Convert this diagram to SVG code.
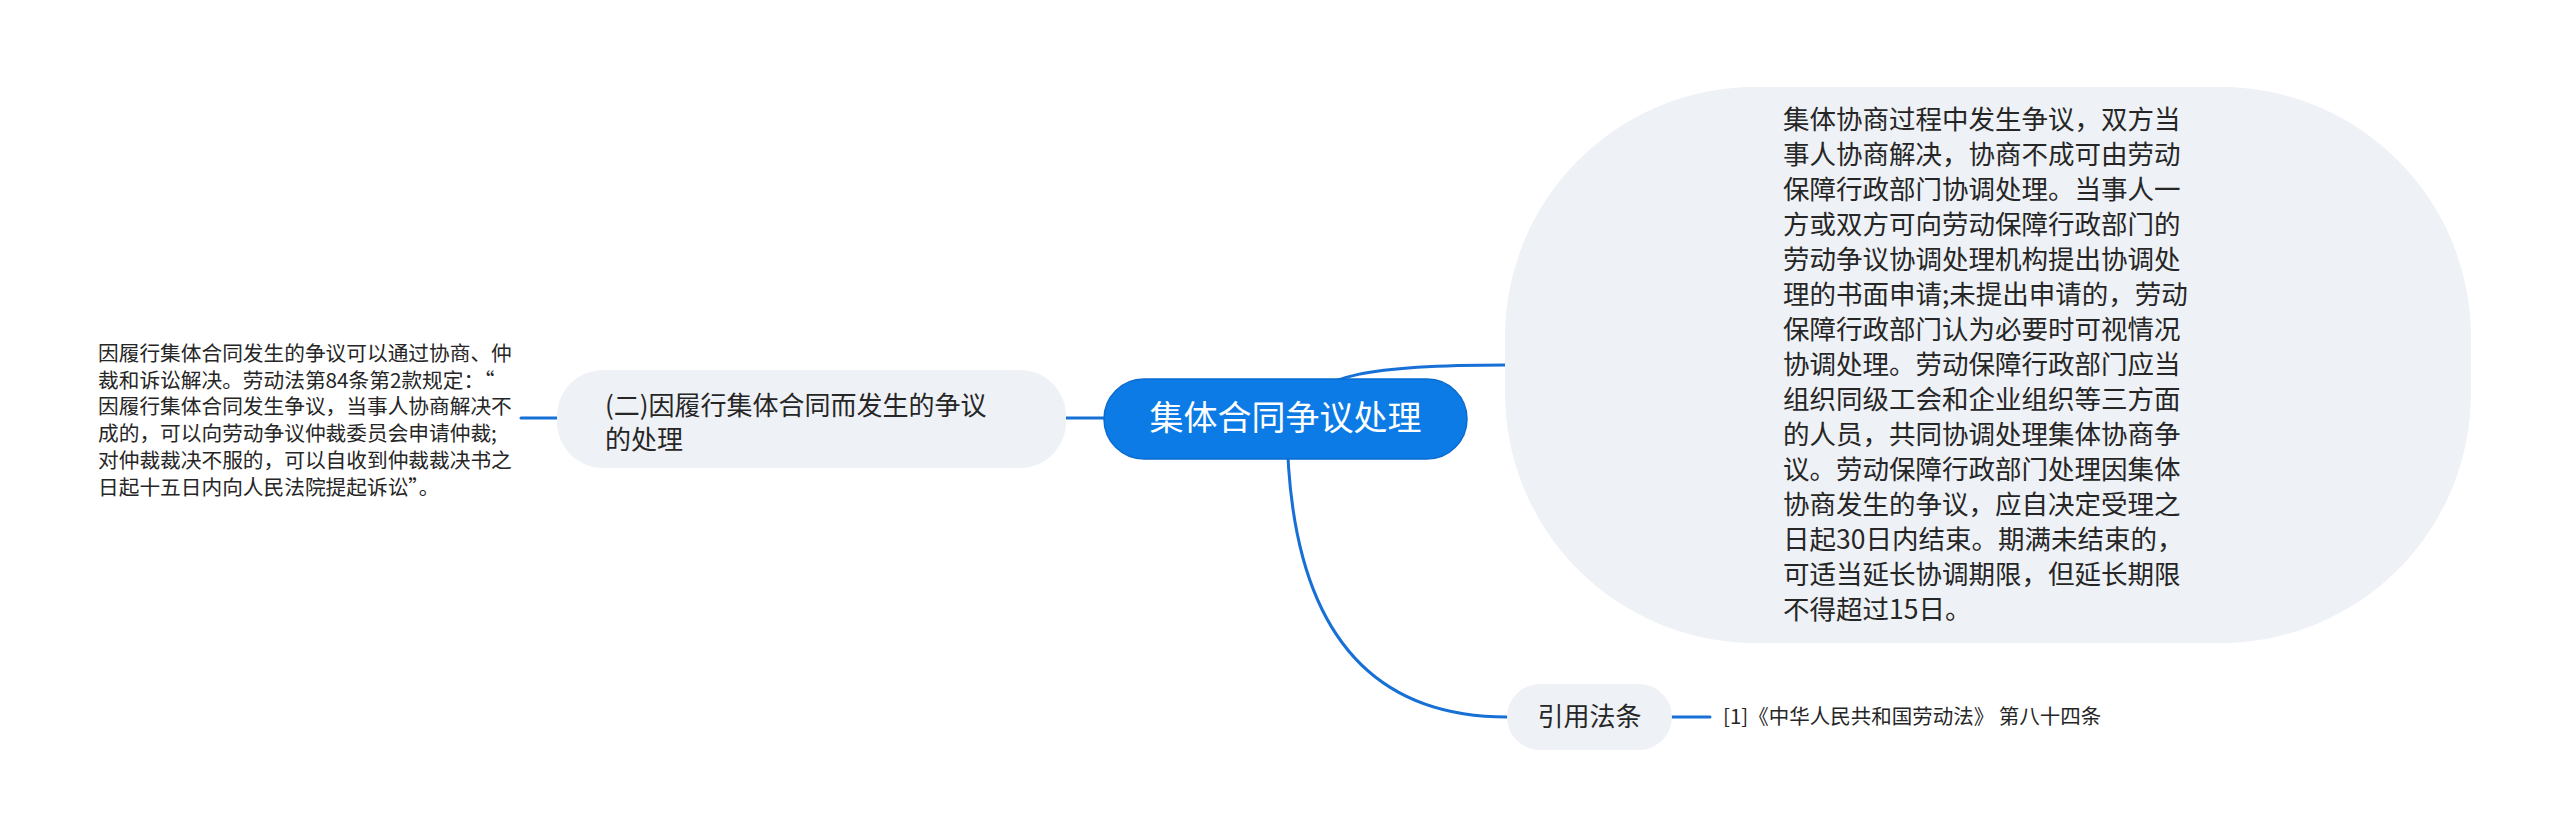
<svg xmlns="http://www.w3.org/2000/svg" width="2560" height="837" viewBox="0 0 2560 837">
  <style>
    .edge { fill: none; stroke: #1670d6; stroke-width: 3; stroke-linecap: round; }
    .light { fill: #eef1f5; }
    .txt { font-family: "Noto Sans CJK SC", "Noto Sans", sans-serif; fill: #262626; }
    .root { fill: #0c7be6; stroke: #0a6ccf; stroke-width: 1.5; }
    .roottxt { font-family: "Noto Sans CJK SC", "Noto Sans", sans-serif; fill: #ffffff; font-size: 34px; }
  </style>
  <rect width="2560" height="837" fill="#ffffff"/>
  <g id="connectors">
    <path class="edge" d="M1066 418 L1104 418"/>
    <path class="edge" d="M521 418 L557 418"/>
    <path class="edge" d="M1290 419 C1310 372, 1380 365, 1506 365"/>
    <path class="edge" d="M1287 419 Q1287 717 1507 717"/>
    <path class="edge" d="M1672 717 L1710 717"/>
  </g>
  <g id="node-root">
    <rect class="root" x="1104" y="379" width="363" height="80" rx="40"/>
    <text class="roottxt" x="1285.5" y="430" text-anchor="middle">集体合同争议处理</text>
  </g>
  <g id="node-branch-left">
    <rect class="light" x="557" y="370" width="509" height="98" rx="46"/>
    <text class="txt" font-size="26" x="605">
      <tspan x="605" y="415">(二)因履行集体合同而发生的争议</tspan>
      <tspan x="605" y="449">的处理</tspan>
    </text>
  </g>
  <g id="node-leaf-left">
    <text class="txt" font-size="20.7">
      <tspan x="98" y="361">因履行集体合同发生的争议可以通过协商、仲</tspan>
      <tspan x="98" y="387.7">裁和诉讼解决。劳动法第84条第2款规定：“</tspan>
      <tspan x="98" y="414.4">因履行集体合同发生争议，当事人协商解决不</tspan>
      <tspan x="98" y="441.1">成的，可以向劳动争议仲裁委员会申请仲裁;</tspan>
      <tspan x="98" y="467.8">对仲裁裁决不服的，可以自收到仲裁裁决书之</tspan>
      <tspan x="98" y="494.5">日起十五日内向人民法院提起诉讼”。</tspan>
    </text>
  </g>
  <g id="node-big">
    <rect class="light" x="1505" y="87" width="966" height="556" rx="250"/>
    <text class="txt" font-size="26.5">
      <tspan x="1783" y="129">集体协商过程中发生争议，双方当</tspan>
      <tspan x="1783" y="164">事人协商解决，协商不成可由劳动</tspan>
      <tspan x="1783" y="199">保障行政部门协调处理。当事人一</tspan>
      <tspan x="1783" y="234">方或双方可向劳动保障行政部门的</tspan>
      <tspan x="1783" y="269">劳动争议协调处理机构提出协调处</tspan>
      <tspan x="1783" y="304">理的书面申请;未提出申请的，劳动</tspan>
      <tspan x="1783" y="339">保障行政部门认为必要时可视情况</tspan>
      <tspan x="1783" y="374">协调处理。劳动保障行政部门应当</tspan>
      <tspan x="1783" y="409">组织同级工会和企业组织等三方面</tspan>
      <tspan x="1783" y="444">的人员，共同协调处理集体协商争</tspan>
      <tspan x="1783" y="479">议。劳动保障行政部门处理因集体</tspan>
      <tspan x="1783" y="514">协商发生的争议，应自决定受理之</tspan>
      <tspan x="1783" y="549">日起30日内结束。期满未结束的，</tspan>
      <tspan x="1783" y="584">可适当延长协调期限，但延长期限</tspan>
      <tspan x="1783" y="619">不得超过15日。</tspan>
    </text>
  </g>
  <g id="node-cite">
    <rect class="light" x="1507" y="684" width="165" height="66" rx="33"/>
    <text class="txt" font-size="26" x="1589.5" y="726" text-anchor="middle">引用法条</text>
  </g>
  <g id="node-cite-leaf">
    <text class="txt" font-size="20.5" x="1723" y="724">[1]《中华人民共和国劳动法》 第八十四条</text>
  </g>
</svg>
